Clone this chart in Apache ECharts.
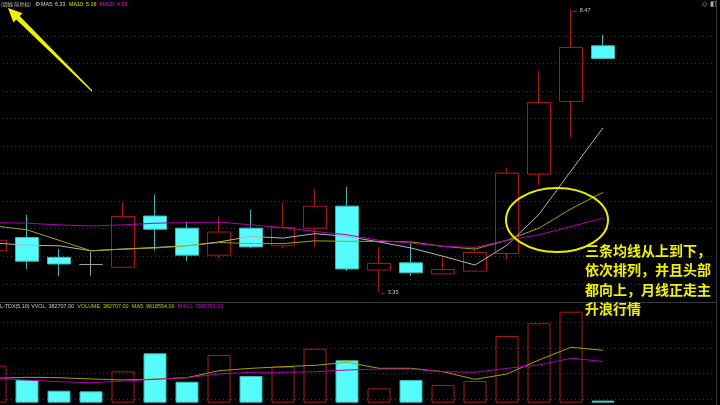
<!DOCTYPE html>
<html><head><meta charset="utf-8">
<script src="https://cdn.jsdelivr.net/npm/echarts@6/dist/echarts.min.js"></script>
<style>html,body{margin:0;padding:0;background:#000;}#c{width:720px;height:405px;}</style>
</head><body><div id="c"></div>
<script>
// weekly candles (forward adjusted); last 3 slots are empty space on the right
const categories = ['W01','W02','W03','W04','W05','W06','W07','W08','W09','W10','W11','W12','W13','W14','W15','W16','W17','W18','W19','W20','W21','W22','W23'];
const opens  = [4.10, 4.34, 3.98, 3.85, 3.80, 4.73, 4.51, 4.02, 4.51, 4.19, 4.51, 4.91, 3.75, 3.88, 3.68, 3.73, 4.05, 5.49, 6.81, 7.82];
const closes = [4.29, 3.91, 3.86, 3.85, 4.72, 4.49, 4.02, 4.44, 4.17, 4.52, 4.91, 3.77, 3.87, 3.70, 3.76, 4.07, 5.51, 6.79, 7.79, 7.59];
const lows   = [4.05, 3.77, 3.64, 3.65, 3.79, 4.10, 3.91, 3.96, 4.15, 4.14, 4.17, 3.73, 3.35, 3.64, 3.67, 3.72, 3.94, 5.29, 6.16, 7.59];
const highs  = [4.40, 4.75, 4.13, 4.08, 4.98, 5.12, 4.63, 4.72, 4.84, 4.97, 5.22, 5.26, 4.17, 4.24, 4.00, 4.14, 5.61, 7.36, 8.47, 8.02];
const ma5  = [4.24, 4.20, 4.19, 4.10, 4.13, 4.16, 4.19, 4.26, 4.36, 4.33, 4.41, 4.36, 4.26, 4.15, 4.00, 3.84, 4.20, 4.76, 5.55, 6.33];
const ma10 = [4.55, 4.48, 4.29, 4.10, 4.13, 4.15, 4.19, 4.25, 4.23, 4.23, 4.28, 4.27, 4.27, 4.26, 4.18, 4.13, 4.29, 4.51, 4.86, 5.16];
const ma20 = [4.61, 4.60, 4.57, 4.55, 4.57, 4.60, 4.61, 4.62, 4.57, 4.52, 4.45, 4.39, 4.29, 4.24, 4.18, 4.16, 4.29, 4.39, 4.54, 4.69];
const volumes = [6790000, 4170000, 2200000, 2090000, 5760000, 9060000, 3850000, 8750000, 4900000, 6610000, 9910000, 7780000, 2640000, 4170000, 3250000, 3980000, 12240000, 14570000, 16700000, 382707];
const volMa5  = [4480000, 4660000, 4590000, 4350000, 4170000, 4350000, 4590000, 5870000, 6310000, 6610000, 6860000, 7410000, 6310000, 6310000, 5690000, 4290000, 5270000, 7840000, 10170000, 9618554];
const volMa10 = [4480000, 4170000, 3850000, 3670000, 3980000, 4290000, 4590000, 5270000, 5580000, 5580000, 5690000, 6000000, 6180000, 6180000, 5690000, 5580000, 6310000, 6920000, 8150000, 7585751];

const UP = '#b01818', DOWN = '#54fcfc', DOWN_EDGE = '#40b8b8';
const GRIDLINE = {show: true, showMinLine: false, showMaxLine: false, lineStyle: {color: '#3c3c3c', type: [1, 3], width: 1}};
const FONT = '"Liberation Sans", Arial, sans-serif';
const FS = 5.4;

const kData = opens.map((o, i) => [o, closes[i], lows[i], highs[i]]);
const volData = volumes.map((v, i) => ({
  value: v,
  itemStyle: closes[i] > opens[i]
    ? {color: 'rgba(0,0,0,0)', borderColor: UP, borderWidth: 1}
    : {color: DOWN, borderColor: DOWN_EDGE, borderWidth: 1}
}));

function rs(fill, size, family) {
  return {fill: fill, fontSize: size || FS, fontFamily: family || FONT};
}

const chart = echarts.init(document.getElementById('c'), null, {renderer: 'canvas'});
chart.setOption({
  backgroundColor: '#000',
  animation: false,
  grid: [
    {left: -21, width: 736, top: 8.35, height: 303, outerBoundsMode: 'none', containLabel: false},
    {left: -21, width: 736, top: 296.78, height: 127.52, outerBoundsMode: 'none', containLabel: false}
  ],
  xAxis: [
    {type: 'category', gridIndex: 0, data: categories, boundaryGap: true, show: false},
    {type: 'category', gridIndex: 1, data: categories, boundaryGap: true, show: false}
  ],
  yAxis: [
    {type: 'value', gridIndex: 0, min: 3, max: 8.5, interval: 0.5, scale: true,
     axisLabel: {show: false}, axisLine: {show: false}, axisTick: {show: false}, splitLine: GRIDLINE},
    {type: 'value', gridIndex: 1, min: -3963600, max: 19436400, interval: 4680000, scale: true,
     axisLabel: {show: false}, axisLine: {show: false}, axisTick: {show: false}, splitLine: GRIDLINE}
  ],
  series: [
    {type: 'candlestick', name: 'K', xAxisIndex: 0, yAxisIndex: 0, data: kData, barWidth: 23,
     itemStyle: {color: 'rgba(0,0,0,0)', color0: DOWN, borderColor: UP, borderColor0: DOWN_EDGE,
                 borderColorDoji: '#a0a0a0', borderWidth: 1},
     markPoint: {symbol: 'circle', symbolSize: 1, itemStyle: {color: 'rgba(0,0,0,0)'},
       label: {show: true, position: 'right', distance: 1, color: '#c8c8c8', fontSize: 5.6, fontFamily: FONT,
               formatter: p => '\u2190 ' + Number(p.value).toFixed(2)},
       data: [{type: 'max', valueDim: 'highest'}, {type: 'min', valueDim: 'lowest'}]}},
    {type: 'line', name: 'MA5', xAxisIndex: 0, yAxisIndex: 0, data: ma5, symbol: 'none', z: 3,
     lineStyle: {color: '#b4b4b4', width: 1}},
    {type: 'line', name: 'MA10', xAxisIndex: 0, yAxisIndex: 0, data: ma10, symbol: 'none', z: 3,
     lineStyle: {color: '#a4a400', width: 1}},
    {type: 'line', name: 'MA20', xAxisIndex: 0, yAxisIndex: 0, data: ma20, symbol: 'none', z: 3,
     lineStyle: {color: '#b000b0', width: 1}},
    {type: 'bar', name: 'VOLUME', xAxisIndex: 1, yAxisIndex: 1, data: volData, barWidth: 23},
    {type: 'line', name: 'VMA5', xAxisIndex: 1, yAxisIndex: 1, data: volMa5, symbol: 'none', z: 3,
     lineStyle: {color: '#a4a400', width: 1}},
    {type: 'line', name: 'VMA10', xAxisIndex: 1, yAxisIndex: 1, data: volMa10, symbol: 'none', z: 3,
     lineStyle: {color: '#b000b0', width: 1}}
  ],
  graphic: [
    // frame lines
    {type: 'line', z: 50, shape: {x1: 0, y1: 302.5, x2: 717, y2: 302.5}, style: {stroke: '#3a3a3a', lineWidth: 1}},
    {type: 'line', z: 50, shape: {x1: 716.5, y1: 0, x2: 716.5, y2: 405}, style: {stroke: '#3a3a3a', lineWidth: 1}},
    // header of price pane
    {type: 'text', z: 100, style: {x: 1, y: 4.5, verticalAlign: 'middle', align: 'left',
      text: '{a|(周线 前复权)}',
      rich: {a: rs('#c8c8c8', 5.1, '"Noto Sans CJK SC", sans-serif')}}},
    {type: 'text', z: 100, style: {x: 35, y: 4.5, verticalAlign: 'middle', align: 'left', text: '\u2699',
      fill: '#c8c8c8', font: '6px "DejaVu Sans"'}},
    {type: 'text', z: 100, style: {x: 41, y: 4.5, verticalAlign: 'middle', align: 'left',
      text: '{w|MA5: 6.33} {y|MA10: 5.16} {m|MA20: 4.69}',
      rich: {w: rs('#d8d8d8'), y: rs('#e6e600'), m: rs('#ff00ff')}}},
    {type: 'text', z: 100, style: {x: 702, y: 4.5, verticalAlign: 'middle', text: '\u25C7', fill: '#b0b0b0', font: '7px "DejaVu Sans"'}},
    {type: 'text', z: 100, style: {x: 710, y: 4.5, verticalAlign: 'middle', text: '\u25E7', fill: '#b0b0b0', font: '7px "DejaVu Sans"'}},
    // header of volume pane
    {type: 'text', z: 100, style: {x: 0, y: 306.5, verticalAlign: 'middle', align: 'left',
      text: '{w|L-TDX(5,10) VVOL: 382707.00} {y|VOLUME: 382707.00} {y|MA5: 9618554.00} {m|MA10: 7585751.00}',
      rich: {w: rs('#d0d0d0'), y: rs('#c8c800'), m: rs('#e000e0')}}},
    // annotation arrow
    {type: 'polygon', z: 100, shape: {points: [[8, 8], [22.6, 13.3], [19.7, 16.1], [92.4, 90.6], [91.6, 91.4], [16.2, 19.6], [13.4, 22.5]]},
     style: {fill: '#f0f000'}},
    // annotation ellipse
    {type: 'ellipse', z: 100, shape: {cx: 557, cy: 220, rx: 51, ry: 32}, style: {fill: 'none', stroke: '#ecec00', lineWidth: 2}},
    // annotation text
    {type: 'text', z: 100, style: {x: 585, y: 241, text: '三条均线从上到下，\n依次排列，并且头部\n都向上，月线正走主\n升浪行情',
      fill: '#f2f200', font: 'bold 14px "Noto Sans CJK SC"', lineHeight: 19.3, verticalAlign: 'top', align: 'left'}}
  ]
});
</script></body></html>
